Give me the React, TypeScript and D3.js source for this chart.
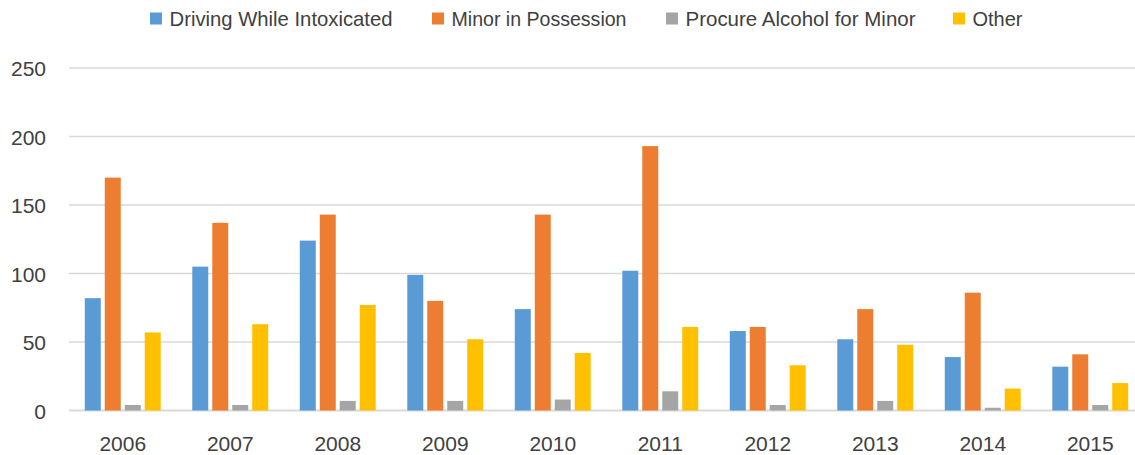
import React from 'react';
import * as d3 from 'd3';

const years = ['2006', '2007', '2008', '2009', '2010', '2011', '2012', '2013', '2014', '2015'];
const seriesNames = ['Driving While Intoxicated', 'Minor in Possession', 'Procure Alcohol for Minor', 'Other'];
const dwi = [82, 105, 124, 99, 74, 102, 58, 52, 39, 32];
const mip = [170, 137, 143, 80, 143, 193, 61, 74, 86, 41];
const procure = [4, 4, 7, 7, 8, 14, 4, 7, 2, 4];
const other = [57, 63, 77, 52, 42, 61, 33, 48, 16, 20];
const yTicks = [0, 50, 100, 150, 200, 250];

const colors = ['#5b9bd5', '#ed7d31', '#a5a5a5', '#ffc000'];

const legendX = [150, 432, 666, 953];
const legendTextW = [223, 175, 230, 50];

const W = 1135;
const H = 455;
const FONT = '"Liberation Sans", Arial, sans-serif';
const TEXT = '#404040';

export default function App() {
  const series = [dwi, mip, procure, other];

  // plot runs past the right edge of the picture, as in the reference
  const x0 = d3.scaleBand<string>().domain(years).range([69, 1144]).paddingInner(0).paddingOuter(0);
  const x1 = d3
    .scaleBand<number>()
    .domain(d3.range(series.length))
    .range([0, x0.bandwidth()])
    .paddingInner(0.2)
    .paddingOuter(0.79);
  const y = d3.scaleLinear().domain([0, 250]).range([410.5, 68]);

  return (
    <svg width={W} height={H} style={{ display: 'block', position: 'absolute', left: 0, top: 0, overflow: 'hidden' }}>
      <rect width={W} height={H} fill="#ffffff" />

      {/* gridlines */}
      {yTicks.map(t => (
        <line
          key={t}
          x1={69}
          x2={W}
          y1={y(t)}
          y2={y(t)}
          stroke="#d9d9d9"
          strokeWidth={t === 0 ? 2 : 1.5}
        />
      ))}

      {/* y tick labels */}
      {yTicks.map(t => (
        <text key={t} x={46} y={y(t) + 8} textAnchor="end" fontFamily={FONT} fontSize={21} fill={TEXT}>
          {t}
        </text>
      ))}

      {/* bars */}
      {years.map((yr, i) => (
        <g key={yr} transform={`translate(${x0(yr)},0)`}>
          {series.map((vals, s) => (
            <rect
              key={s}
              x={x1(s)}
              y={y(vals[i])}
              width={x1.bandwidth()}
              height={y(0) - y(vals[i])}
              fill={colors[s]}
            />
          ))}
        </g>
      ))}

      {/* x labels */}
      {years.map(yr => (
        <text
          key={yr}
          x={(x0(yr) as number) + x0.bandwidth() / 2}
          y={451}
          textAnchor="middle"
          fontFamily={FONT}
          fontSize={21}
          fill={TEXT}
        >
          {yr}
        </text>
      ))}

      {/* legend */}
      {seriesNames.map((name, s) => (
        <g key={name}>
          <rect x={legendX[s]} y={12.5} width={12} height={12} fill={colors[s]} />
          <text
            x={legendX[s] + 19.5}
            y={26}
            fontFamily={FONT}
            fontSize={21}
            fill={TEXT}
            textLength={legendTextW[s]}
            lengthAdjust="spacingAndGlyphs"
          >
            {name}
          </text>
        </g>
      ))}
    </svg>
  );
}
